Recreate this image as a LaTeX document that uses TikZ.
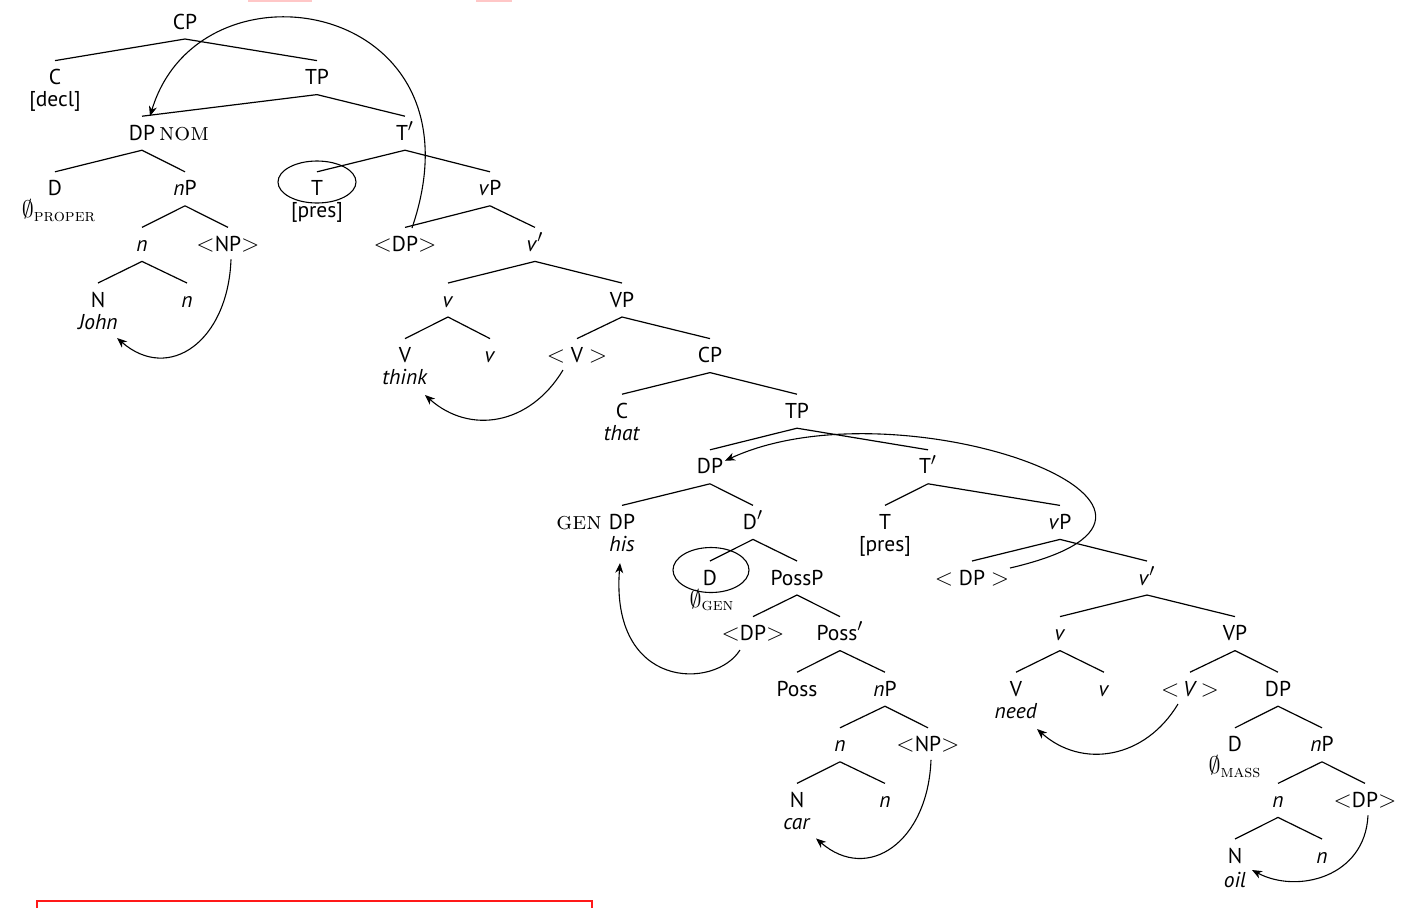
\documentclass[tikz,border=0pt]{standalone}
\usepackage{amsmath}
\usepackage{fontspec}
\setsansfont{PT Sans}[Scale=0.86]
\usetikzlibrary{arrows.meta}
\newcommand{\smc}[1]{{\rmfamily\scshape #1}}
\newcommand{\treesize}{\fontsize{12.5}{15}\selectfont}

\begin{document}
\begin{tikzpicture}[x=0.5pt,y=-0.5pt,
  lbl/.style={font=\treesize\sffamily, inner sep=0pt, outer xsep=0pt, outer ysep=5pt,
              text height=7pt, text depth=0pt, anchor=base},
  sub/.style={font=\treesize\sffamily, inner sep=0pt, anchor=base},
  casemark/.style={font=\treesize, inner sep=0pt, anchor=base},
  branch/.style={line width=0.6pt},
  trace/.style={line width=0.55pt},
  move/.style={line width=0.55pt, -{Stealth[length=5pt,width=4pt,inset=1.5pt]}},
  linkbox/.style={draw=red!90, line width=0.6pt}]

\useasboundingbox (0,0) rectangle (1405,907);

% leftover link borders along the edges
\fill[red!22] (248,-3) rectangle (312,1.5);
\fill[red!22] (476,-3) rectangle (512,1.5);
\draw[linkbox] (37,915) -- (37,901) -- (592,901) -- (592,915);

% row 0
\node[lbl] (cpA) at (185,29) {CP};
% row 1
\node[lbl] (cA) at (55,84.6) {C};
\node[sub] (decl) at (55,106.6) {[decl]};
\node[lbl] (tpA) at (317,84.6) {TP};
% row 2
\node[lbl] (dpA) at (142,140.2) {DP};
\node[casemark] (nom) at (184,140.2) {\smc{nom}};
\node[lbl] (tbarA) at (405,140.2) {T$'$};
% row 3
\node[lbl] (dA) at (55,195.8) {D};
\node[sub] (proper) at (59,217.8) {$\emptyset_{\text{\smc{proper}}}$};
\node[lbl] (npA) at (185,195.8) {\textit{n}P};
\node[lbl] (tA) at (317,195.8) {T};
\node[sub] (presA) at (317,217.8) {[pres]};
\node[lbl] (lvpA) at (490,195.8) {\textit{v}P};
% row 4
\node[lbl] (littlenA) at (142,251.4) {\textit{n}};
\node[lbl] (nptA) at (228,251.4) {$<$NP$>$};
\node[lbl] (dptA) at (405,251.4) {$<$DP$>$};
\node[lbl] (vbarA) at (535,251.4) {\textit{v}$'$};
% row 5
\node[lbl] (bigNA) at (98,307) {N};
\node[sub] (john) at (98,329) {\textit{John}};
\node[lbl] (littlenB) at (187,307) {\textit{n}};
\node[lbl] (littlevA) at (448,307) {\textit{v}};
\node[lbl] (bigVPA) at (622,307) {VP};
% row 6
\node[lbl] (bigVA) at (405,362.6) {V};
\node[sub] (think) at (405,384.6) {\textit{think}};
\node[lbl] (littlevB) at (490,362.6) {\textit{v}};
\node[lbl] (vtA) at (577,362.6) {$<$ V $>$};
\node[lbl] (cpB) at (710,362.6) {CP};
% row 7
\node[lbl] (cB) at (622,418.2) {C};
\node[sub] (that) at (622,440.2) {\textit{that}};
\node[lbl] (tpB) at (797,418.2) {TP};
% row 8
\node[lbl] (dpB) at (710,473.8) {DP};
\node[lbl] (tbarB) at (928,473.8) {T$'$};
% row 9
\node[casemark] (gen) at (579,529.4) {\smc{gen}};
\node[lbl] (dpC) at (622,529.4) {DP};
\node[sub] (his) at (622,551.4) {\textit{his}};
\node[lbl] (dbar) at (753,529.4) {D$'$};
\node[lbl] (tB) at (885,529.4) {T};
\node[sub] (presB) at (885,551.4) {[pres]};
\node[lbl] (lvpB) at (1060,529.4) {\textit{v}P};
% row 10
\node[lbl] (dB) at (710,585) {D};
\node[sub] (zgen) at (712,607) {$\emptyset_{\text{\smc{gen}}}$};
\node[lbl] (possp) at (797,585) {PossP};
\node[lbl] (dptB) at (972,585) {$<$ DP $>$};
\node[lbl] (vbarB) at (1147,585) {\textit{v}$'$};
% row 11
\node[lbl] (dptC) at (753,640.6) {$<$DP$>$};
\node[lbl] (possbar) at (840,640.6) {Poss$'$};
\node[lbl] (littlevC) at (1060,640.6) {\textit{v}};
\node[lbl] (bigVPB) at (1235,640.6) {VP};
% row 12
\node[lbl] (poss) at (797,696.2) {Poss};
\node[lbl] (npB) at (885,696.2) {\textit{n}P};
\node[lbl] (bigVB) at (1016,696.2) {V};
\node[sub] (need) at (1016,718.2) {\textit{need}};
\node[lbl] (littlevD) at (1104,696.2) {\textit{v}};
\node[lbl] (vtB) at (1190,696.2) {$<$\,\textit{V}\,$>$};
\node[lbl] (dpD) at (1278,696.2) {DP};
% row 13
\node[lbl] (littlenC) at (840,751.8) {\textit{n}};
\node[lbl] (nptB) at (928,751.8) {$<$NP$>$};
\node[lbl] (dC) at (1235,751.8) {D};
\node[sub] (zmass) at (1235,773.8) {$\emptyset_{\text{\smc{mass}}}$};
\node[lbl] (npC) at (1322,751.8) {\textit{n}P};
% row 14
\node[lbl] (bigNB) at (797,807.4) {N};
\node[sub] (car) at (797,829.4) {\textit{car}};
\node[lbl] (littlenD) at (885,807.4) {\textit{n}};
\node[lbl] (littlenE) at (1278,807.4) {\textit{n}};
\node[lbl] (dptD) at (1365,807.4) {$<$DP$>$};
% row 15
\node[lbl] (bigNC) at (1235,863) {N};
\node[sub] (oil) at (1235,887) {\textit{oil}};
\node[lbl] (littlenF) at (1322,863) {\textit{n}};

% branches
\foreach \p/\c in {cpA/cA, cpA/tpA, tpA/dpA, tpA/tbarA, dpA/dA, dpA/npA,
    npA/littlenA, npA/nptA, littlenA/bigNA, littlenA/littlenB,
    tbarA/tA, tbarA/lvpA, lvpA/dptA, lvpA/vbarA,
    vbarA/littlevA, vbarA/bigVPA, littlevA/bigVA, littlevA/littlevB,
    bigVPA/vtA, bigVPA/cpB, cpB/cB, cpB/tpB, tpB/dpB, tpB/tbarB,
    dpB/dpC, dpB/dbar, dbar/dB, dbar/possp, possp/dptC, possp/possbar,
    possbar/poss, possbar/npB, npB/littlenC, npB/nptB,
    littlenC/bigNB, littlenC/littlenD,
    tbarB/tB, tbarB/lvpB, lvpB/dptB, lvpB/vbarB,
    vbarB/littlevC, vbarB/bigVPB, littlevC/bigVB, littlevC/littlevD,
    bigVPB/vtB, bigVPB/dpD, dpD/dC, dpD/npC,
    npC/littlenE, npC/dptD, littlenE/bigNC, littlenE/littlenF}
  \draw[branch] (\p.south) -- (\c.north);

% circled heads
\draw[trace] ([yshift=6.9pt]tA.base) ellipse [x radius=19.5pt, y radius=10.5pt];
\draw[trace] ([xshift=0.5pt,yshift=7.5pt]dB.base) ellipse [x radius=19pt, y radius=11.25pt];

% movement arrows
\draw[move] ([shift={(7,-23.4)}]dptA.base) .. controls +(78,-228) and +(50,-166) .. ([shift={(8,-24)}]dpA.base);
\draw[move] ([shift={(3,8)}]nptA.base) .. controls +(-3,82) and +(52,45) .. ([shift={(19,9)}]john.base);
\draw[move] ([shift={(-14,7.4)}]vtA.base) .. controls +(-33,55) and +(45,40) .. ([shift={(20,10.4)}]think.base);
\draw[move] ([shift={(-13,9.4)}]dptC.base) .. controls +(-25,40) and +(-10,127) .. ([shift={(-2,11.6)}]his.base);
\draw[move] ([shift={(38,-17)}]dptB.base) .. controls +(250,-58) and +(175,-81) .. ([shift={(15,-13)}]dpB.base);
\draw[move] ([shift={(-12,7.8)}]vtB.base) .. controls +(-33,55) and +(45,40) .. ([shift={(21,10.8)}]need.base);
\draw[move] ([shift={(3,8)}]nptB.base) .. controls +(-3,82) and +(52,45) .. ([shift={(19,9)}]car.base);
\draw[move] ([shift={(3,8)}]dptD.base) .. controls +(-3,62) and +(45,24) .. ([shift={(17,-17)}]oil.base);
\end{tikzpicture}
\end{document}
